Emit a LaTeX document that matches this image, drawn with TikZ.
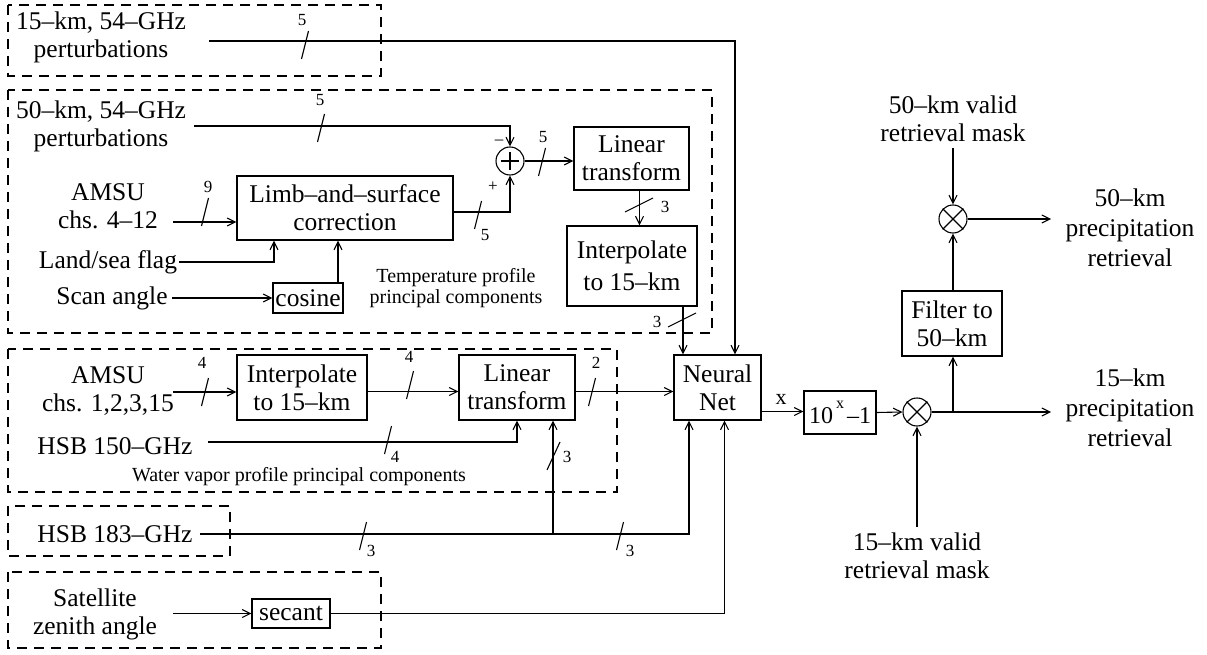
\documentclass[tikz,border=0pt]{standalone}
\usepackage{fontspec}
\setmainfont{Liberation Serif}
\usetikzlibrary{arrows.meta}
\newcommand\slH[2]{\draw[sl] (#1,#2) ++(-3.5,14) -- ++(7,-28);}
\newcommand\slV[2]{\draw[sl] (#1,#2) ++(-14,7) -- ++(28,-14);}
\begin{document}
\begin{tikzpicture}[x=1pt,y=-1pt,
  every node/.style={font=\fontsize{25.5}{28}\selectfont, inner sep=0pt, align=center},
  blk/.style={draw, line width=1.1pt, inner sep=0pt, align=center},
  sml/.style={font=\fontsize{17}{18}\selectfont},
  capt/.style={font=\fontsize{20}{21}\selectfont},
  cir/.style={draw, circle, minimum size=28pt, inner sep=0pt, line width=1.1pt},
  grp/.style={draw, dash pattern=on 10pt off 7pt, line width=1.4pt},
  con/.style={line width=1.1pt},
  arr/.style={con, -{Straight Barb[length=8pt,width=8pt]}},
  sl/.style={line width=1.1pt},
]
\useasboundingbox (0,0) rectangle (1207,655);

% dashed groups
\draw[grp] (8,5) rectangle (381,76);
\draw[grp] (8,90) rectangle (712,333);
\draw[grp] (8,349) rectangle (617,492);
\draw[grp] (8,506) rectangle (230,556);
\draw[grp] (8,572) rectangle (381,648);

% input texts
\node (t15) at (101,37) {15--km, 54--GHz\\perturbations};
\node (t50) at (101,126) {50--km, 54--GHz\\perturbations};
\node (amsuA) at (108,206) {AMSU\\chs. 4--12};
\node (land) at (108,262) {Land/sea flag};
\node (scan) at (112,298) {Scan angle};
\node (amsuB) at (108,391) {AMSU\\chs. 1,2,3,15};
\node (hsb150) at (115,446) {HSB 150--GHz};
\node (hsb183) at (115,534) {HSB 183--GHz};
\node (sat) at (95,614) {Satellite\\zenith angle};

% blocks
\node[blk, minimum width=216pt, minimum height=64pt] (limb) at (345,208) {Limb--and--surface\\correction};
\node[blk, minimum width=70pt, minimum height=30pt] (cos) at (308,298) {cosine};
\node[cir] (sum) at (510,161) {};
\draw[con] ([xshift=-9pt]sum.center) -- ([xshift=9pt]sum.center);
\draw[con] ([yshift=-9pt]sum.center) -- ([yshift=9pt]sum.center);
\node[blk, minimum width=115pt, minimum height=63pt] (lin1) at (631.5,158.5) {Linear\\transform};
\node[blk, minimum width=130pt, minimum height=80pt, font=\fontsize{25.5}{32}\selectfont] (int1) at (632,266) {Interpolate\\to 15--km};
\node[blk, minimum width=130pt, minimum height=65pt] (int2) at (302,387.5) {Interpolate\\to 15--km};
\node[blk, minimum width=116pt, minimum height=65pt] (lin2) at (517,387.5) {Linear\\transform};
\node[blk, minimum width=87pt, minimum height=65pt] (nn) at (717.5,387.5) {Neural\\Net};
\node[blk, minimum width=78pt, minimum height=29pt] (sec) at (291,613.5) {secant};
\node[blk, minimum width=72pt, minimum height=43pt, font=\fontsize{24}{26}\selectfont] (pow) at (840,412.5)
  {10\hspace{3pt}\raisebox{15pt}{\fontsize{16}{16}\selectfont x}\hspace{3pt}--1};
\node[cir] (m1) at (917,412) {};
\draw[con] (m1.north west) -- (m1.south east) (m1.north east) -- (m1.south west);
\node[blk, minimum width=100pt, minimum height=65pt] (filt) at (952,323.5) {Filter to\\50--km};
\node[cir] (m2) at (953,219) {};
\draw[con] (m2.north west) -- (m2.south east) (m2.north east) -- (m2.south west);

% right texts
\node (v50) at (953,119) {50--km valid\\retrieval mask};
\node[font=\fontsize{25.5}{30}\selectfont] (o50) at (1130,228) {50--km\\precipitation\\retrieval};
\node[font=\fontsize{25.5}{30}\selectfont] (o15) at (1130,408) {15--km\\precipitation\\retrieval};
\node (v15) at (917,556) {15--km valid\\retrieval mask};

% captions
\node[capt] (capT) at (456,288) {Temperature profile\\principal components};
\node[capt] (capW) at (299,477) {Water vapor profile principal components};

% connector free ends
\coordinate (a15) at (209,41);
\coordinate (aA) at (173,222);
\coordinate (aS) at (172,298);
\coordinate (aB) at (173,392);
\coordinate (h150) at (208,442);
\coordinate (h183) at (200,534);
\coordinate (j1) at (553,534);
\coordinate (sA) at (173,613.5);
\coordinate (j2) at (953,412);
\coordinate (e15) at (1051,412);
\coordinate (e50) at (1051,219);
\coordinate (s50) at (953,148);
\coordinate (s15) at (917,527);

% connectors
\draw[arr] (a15) -| ([xshift=17.5pt]nn.north);
\draw[arr] ([xshift=8pt]t50.east) -| (sum.north);
\draw[arr] (aA) -- (aA -| limb.west);
\draw[arr] ([xshift=2pt]land.east) -| ([xshift=-71pt]limb.south);
\draw[arr] (aS) -- (cos.west);
\draw[arr] ([xshift=30pt]cos.north) -- ([xshift=30pt]cos.north |- limb.south);
\draw[arr] ([yshift=-4pt]limb.east) -| (sum.south);
\draw[arr] (sum.east) -- (sum.east -| lin1.west);
\draw[arr] ([xshift=8pt]lin1.south) -- ([xshift=8pt]lin1.south |- int1.north);
\draw[arr] ([xshift=51pt]int1.south) -- ([xshift=51pt]int1.south |- nn.north);
\draw[arr] (aB) -- (aB -| int2.west);
\draw[arr] ([yshift=-4pt]int2.east) -- ([yshift=-4pt]lin2.west);
\draw[arr] ([yshift=-4pt]lin2.east) -- ([yshift=-4pt]nn.west);
\draw[arr] (h150) -| (lin2.south);
\draw[arr] (h183) -| ([xshift=-28.5pt]nn.south);
\draw[arr] (j1) -- (j1 |- lin2.south);
\draw[arr] (sA) -- (sec.west);
\draw[arr] (sec.east) -| ([xshift=7pt]nn.south);
\draw[arr] ([yshift=-24pt]nn.east) -- ([yshift=-24pt]nn.east -| pow.west);
\draw[arr] (pow.east) -- (m1.west);
\draw[arr] (m1.east) -- (e15);
\draw[arr] (j2) -- (j2 |- filt.south);
\draw[arr] (m2.south |- filt.north) -- (m2.south);
\draw[arr] (s50) -- (m2.north);
\draw[arr] (m2.east) -- (e50);
\draw[arr] (s15) -- (m1.south);

% bus-width slashes and labels
\slH{305}{45} \node[sml] at (302,20) {5};
\slH{321}{128} \node[sml] at (320,100) {5};
\slH{542}{162} \node[sml] at (543,137) {5};
\slH{478}{215} \node[sml] at (485,235) {5};
\slV{639}{205} \node[sml] at (665,207) {3};
\slV{682}{320} \node[sml] at (657,322) {3};
\slH{205}{212} \node[sml] at (208,187) {9};
\slH{205}{392} \node[sml] at (202,363) {4};
\slH{410}{385} \node[sml] at (409,357) {4};
\slH{592}{392} \node[sml] at (596,363) {2};
\slH{388}{440} \node[sml] at (395,457) {4};
\draw[sl] (547,470) -- (560,442); \node[sml] at (567,457) {3};
\slH{363}{536} \node[sml] at (371,551) {3};
\slH{620}{536} \node[sml] at (630,551) {3};
\node[sml] at (499,142) {--};
\node[sml] at (493,187) {+};
\node[font=\fontsize{22}{22}\selectfont] at (781,399) {x};
\end{tikzpicture}
\end{document}
